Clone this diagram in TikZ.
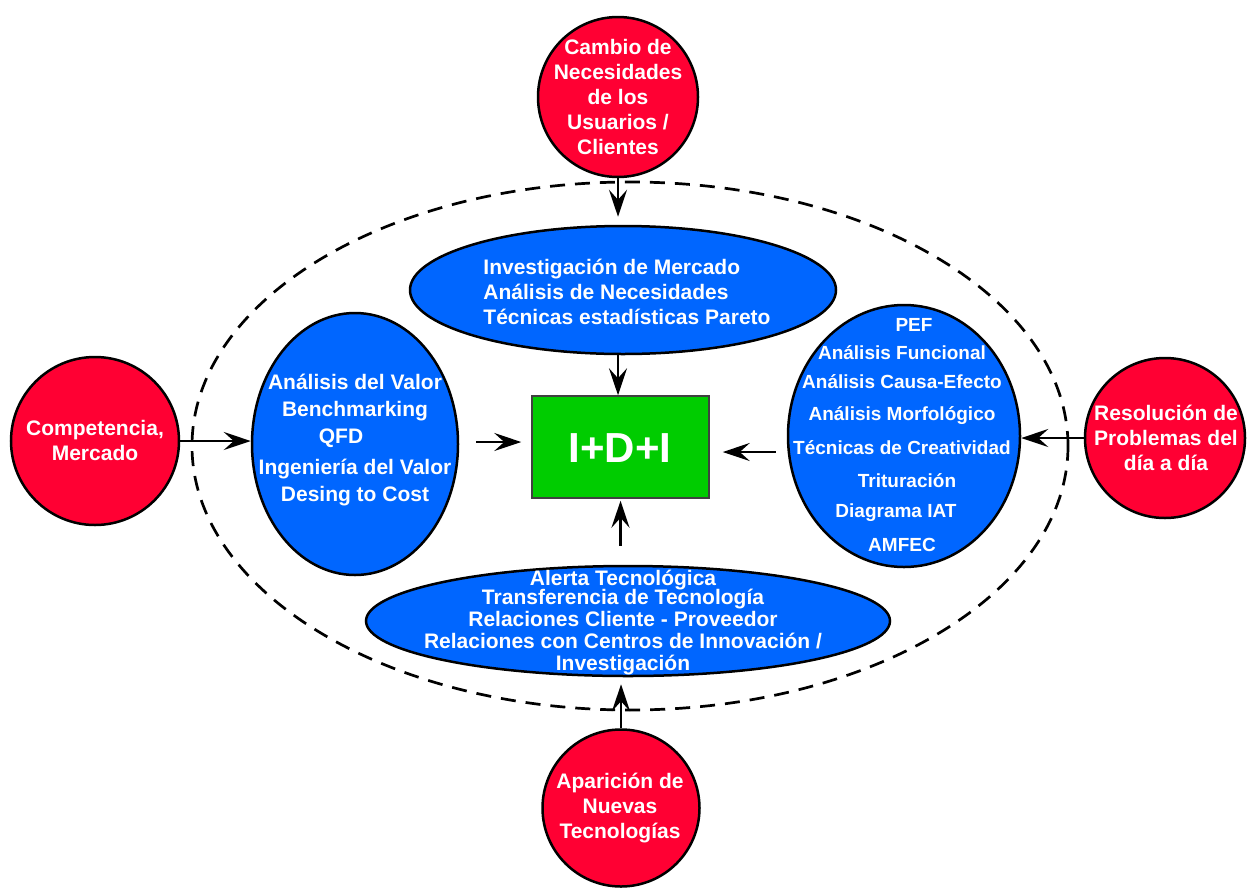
\documentclass[tikz,border=0pt]{standalone}
\usepackage{fontspec}
\setmainfont{Liberation Sans}
\usetikzlibrary{shapes.geometric,arrows.meta}
\definecolor{cred}{RGB}{255,0,51}
\definecolor{cblue}{RGB}{0,102,255}
\definecolor{cgreen}{RGB}{0,204,0}
\newcommand{\padright}[1]{\hbox to #1{}}
\begin{document}
\begin{tikzpicture}[x=1pt,y=-1pt,
  redcirc/.style={circle,draw=black,line width=2.5pt,fill=cred,inner sep=0pt,minimum size=#1},
  blueell/.style={ellipse,draw=black,line width=2.5pt,fill=cblue,inner sep=0pt},
  wtext/.style={text=white,font=\bfseries\fontsize{21}{25}\selectfont,align=center,inner sep=0pt},
  arr/.style={line width=2.2pt,-{Stealth[length=27pt,width=18pt,inset=10pt]}}
]
\useasboundingbox (0,0) rectangle (1248,887);

% outer dashed boundary
\node[ellipse,draw=black,line width=2.7pt,dash pattern=on 15pt off 10pt,
      minimum width=876pt,minimum height=528pt,inner sep=0pt] (outer) at (630,446) {};

% inner blue ellipses
\node[blueell,minimum width=426pt,minimum height=128pt] (topell) at (623,290) {};
\node[blueell,minimum width=206pt,minimum height=262pt] (leftell) at (355,444) {};
\node[blueell,minimum width=232pt,minimum height=262pt] (rightell) at (904,436) {};
\node[blueell,minimum width=524pt,minimum height=110pt] (bottell) at (628,621) {};

% central box
\node[draw=black!75,line width=1.5pt,fill=cgreen,minimum width=177pt,minimum height=102pt,inner sep=0pt]
  (box) at (620.5,447) {};
\node[text=white,font=\bfseries\fontsize{42}{45}\selectfont,inner sep=0pt] (boxtxt) at (620,448) {I+D+I};

% outer red circles
\node[redcirc=160pt] (topc) at (618,97) {};
\node[redcirc=168pt] (leftc) at (95,441) {};
\node[redcirc=160pt] (rightc) at (1165,438) {};
\node[redcirc=157pt] (botc) at (621,808) {};

% texts
\node[wtext] (topctxt) at (618,97) {Cambio de\\Necesidades\\de los\\Usuarios /\\Clientes};
\node[wtext] (leftctxt) at (95,440) {Competencia,\\Mercado};
\node[wtext] (rightctxt) at (1166,438) {Resolución de\\Problemas del\\día a día};
\node[wtext] (botctxt) at (620,808) {Aparición de\\Nuevas\\Tecnologías};

\node[wtext,align=left] (topelltxt) at (627,292)
  {Investigación de Mercado\\Análisis de Necesidades\\Técnicas estadísticas Pareto};
\node[wtext,font=\bfseries\fontsize{21}{27}\selectfont] (leftelltxt) at (355,440)
  {Análisis del Valor\\Benchmarking\\QFD\padright{28pt}\\[4pt]Ingeniería del Valor\\Desing to Cost};
\node[wtext,font=\bfseries\fontsize{19}{28}\selectfont] (rightelltxt) at (902,435)
  {\hspace*{24pt}PEF\\[0pt]Análisis Funcional\\[1pt]Análisis Causa-Efecto\\[4pt]Análisis Morfológico\\[6pt]%
   Técnicas de Creatividad\\[5pt]\hspace*{10pt}Trituración\\[2pt]Diagrama IAT\padright{12pt}\\[6pt]AMFEC};
\node[wtext,font=\bfseries\fontsize{21}{22}\selectfont] (bottelltxt) at (623,622.5)
  {Alerta Tecnológica\\[-3pt]Transferencia de Tecnología\\Relaciones Cliente - Proveedor\\%
   Relaciones con Centros de Innovación /\\Investigación};

% connectors
\draw[arr,shorten >=8pt] (topc.south) -- (topc.south |- topell.north);
\draw[arr] (topell.south -| topc.south) -- (topc.south |- box.north);
\draw[arr] (leftc.east) -- (leftc.east -| leftell.west);
\draw[arr,shorten <=17pt,shorten >=10pt] ([yshift=2pt]leftell.east) -- ([yshift=2pt]leftell.east -| box.west);
\draw[arr] (rightc.west) -- (rightc.west -| rightell.east);
\draw[arr,shorten <=11pt,shorten >=13pt] ([yshift=-5pt]box.east -| rightell.west) -- ([yshift=-5pt]box.east);
\draw[arr,shorten <=19pt,shorten >=2pt] (box.south |- bottell.north) -- (box.south);
\draw[arr,shorten >=7pt] (botc.north) -- (botc.north |- bottell.south);
\end{tikzpicture}
\end{document}
